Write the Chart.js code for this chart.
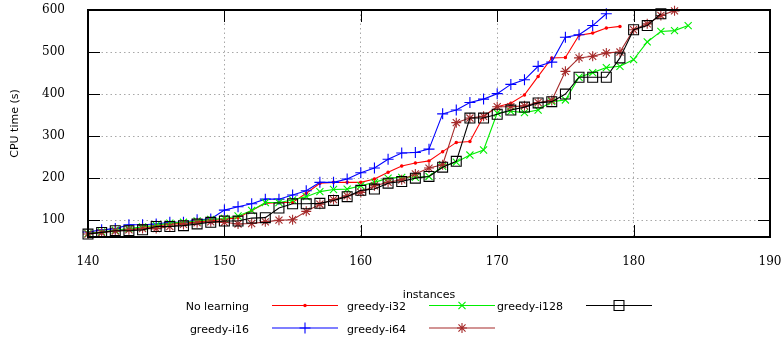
<!DOCTYPE html>
<html>
<head>
<meta charset="utf-8">
<script src="https://cdn.jsdelivr.net/npm/chart.js@4.4.0/dist/chart.umd.min.js"></script>
<style>
  html, body { margin: 0; padding: 0; background: #fff; }
  canvas { display: block; }
</style>
</head>
<body>
<canvas id="chart" width="784" height="337"></canvas>
<script>
const instances = [140, 141, 142, 143, 144, 145, 146, 147, 148, 149,
  150, 151, 152, 153, 154, 155, 156, 157, 158, 159,
  160, 161, 162, 163, 164, 165, 166, 167, 168, 169,
  170, 171, 172, 173, 174, 175, 176, 177, 178, 179,
  180, 181, 182, 183, 184];

const noLearning = [70, 72, 75, 78, 81, 86, 90, 93, 96, 99,
  102, 106, 123, 140, 142, 142, 164, 188, 190, 190,
  190, 198, 214, 229, 236, 241, 263, 285, 287, 347,
  370, 378, 398, 442, 486, 487, 540, 545, 557, 561];
const greedyI16 = [72, 77, 80, 89, 89, 91, 95, 95, 101, 103,
  124, 132, 139, 150, 150, 160, 170, 190, 190, 198,
  213, 224, 245, 260, 261, 269, 353, 362, 380, 388,
  401, 423, 434, 466, 476, 535, 541, 563, 591];
const greedyI32 = [68, 72, 76, 80, 84, 88, 93, 95, 98, 102,
  104, 110, 123, 142, 142, 148, 156, 168, 173, 174,
  182, 190, 200, 202, 202, 204, 228, 238, 255, 267,
  355, 359, 356, 362, 382, 386, 440, 451, 463, 466,
  482, 524, 549, 551, 563];
const greedyI64 = [67, 70, 74, 77, 80, 80, 85, 90, 94, 96,
  95, 91, 92, 96, 100, 101, 121, 138, 149, 158,
  166, 182, 190, 196, 210, 224, 232, 332, 343, 347,
  370, 370, 372, 380, 385, 454, 486, 490, 498, 500,
  553, 567, 587, 598];
const greedyI128 = [67, 71, 75, 75, 77, 85, 85, 87, 91, 95,
  98, 98, 105, 106, 129, 139, 139, 140, 147, 156,
  171, 174, 188, 192, 200, 204, 226, 240, 343, 343,
  352, 362, 369, 379, 382, 400, 440, 440, 440, 486,
  553, 563, 591];

const xTicks = [140, 150, 160, 170, 180, 190];
const yTicks = [100, 200, 300, 400, 500, 600];

function series(label, values, color, style, radius, order) {
  return {
    label: label,
    data: values.map((v, i) => ({ x: instances[i], y: v })),
    borderColor: color,
    backgroundColor: style === 'circle' ? color : 'rgba(0,0,0,0)',
    borderWidth: 1.1,
    pointStyle: style,
    pointRadius: radius,
    pointHoverRadius: radius,
    pointBorderWidth: 1.1,
    tension: 0,
    clip: false,
    order: order,
  };
}

const datasets = [
  series('No learning', noLearning, '#ff0000', 'circle', 1.2, 5),
  series('greedy-i16', greedyI16, '#0000ff', 'cross', 5.5, 4),
  series('greedy-i32', greedyI32, '#00ee00', 'crossRot', 5, 3),
  series('greedy-i64', greedyI64, '#a52a2a', 'star', 5, 2),
  series('greedy-i128', greedyI128, '#000000', 'rect', 7, 1),
];

// frame, inward ticks and the gnuplot style key
const gnuplotFrame = {
  id: 'gnuplotFrame',
  afterDraw(chart) {
    const { ctx, chartArea: a, scales: { x, y } } = chart;
    ctx.save();
    ctx.strokeStyle = '#000';
    ctx.lineWidth = 1;
    const seg = (x1, y1, x2, y2) => { ctx.beginPath(); ctx.moveTo(x1, y1); ctx.lineTo(x2, y2); ctx.stroke(); };
    xTicks.slice(1, -1).forEach(v => {
      const px = Math.round(x.getPixelForValue(v)) + 0.5;
      seg(px, a.bottom, px, a.bottom - 12);
      seg(px, a.top, px, a.top + 12);
    });
    yTicks.slice(0, -1).forEach(v => {
      const py = Math.round(y.getPixelForValue(v)) + 0.5;
      seg(a.left, py, a.left + 12, py);
      seg(a.right, py, a.right - 12, py);
    });
    ctx.lineWidth = 2;
    ctx.strokeRect(a.left, a.top, a.right - a.left, a.bottom - a.top);

    ctx.font = '11px "DejaVu Sans"';
    ctx.textAlign = 'right';
    ctx.textBaseline = 'middle';
    datasets.forEach((ds, i) => {
      const col = Math.floor(i / 2), row = i % 2;
      const off = col * 157;
      const ly = 305.5 + row * 22.5;
      ctx.fillStyle = '#000';
      ctx.fillText(ds.label, 249 + off, ly + 2);
      ctx.strokeStyle = ds.borderColor;
      ctx.fillStyle = ds.backgroundColor;
      ctx.lineWidth = 1.1;
      seg(272 + off, ly, 338 + off, ly);
      Chart.helpers.drawPoint(ctx, { pointStyle: ds.pointStyle, radius: ds.pointRadius, rotation: 0, borderWidth: 1 }, 305 + off, ly);
    });
    ctx.restore();
  }
};

const noOverhang = (s) => { s.paddingTop = 0; s.paddingBottom = 0; s.paddingLeft = 0; s.paddingRight = 0; };

new Chart(document.getElementById('chart'), {
  type: 'line',
  data: { datasets: datasets },
  plugins: [gnuplotFrame],
  options: {
    responsive: false,
    animation: false,
    devicePixelRatio: 1,
    events: [],
    layout: { padding: { left: 0, right: 14, top: 10, bottom: 0 } },
    plugins: { legend: { display: false }, tooltip: { enabled: false } },
    scales: {
      x: {
        type: 'linear',
        min: 140,
        max: 190,
        afterBuildTicks: (s) => { s.ticks = xTicks.map(v => ({ value: v })); },
        afterFit: (s) => { s.height = 100; noOverhang(s); },
        grid: { color: '#a8a8a8', drawTicks: false },
        border: { display: false, dash: [1.5, 3] },
        ticks: { padding: 18, color: '#000', maxRotation: 0, font: { family: 'DejaVu Serif', size: 12 } },
        title: { display: true, text: 'instances', color: '#000', padding: { top: 0, bottom: 35 }, font: { family: 'DejaVu Sans', size: 11 } },
      },
      y: {
        min: 60,
        max: 600,
        afterBuildTicks: (s) => { s.ticks = yTicks.map(v => ({ value: v })); },
        afterFit: (s) => { s.width = 88; noOverhang(s); },
        grid: { color: '#a8a8a8', drawTicks: false },
        border: { display: false, dash: [1.5, 3] },
        ticks: { padding: 23, color: '#000', font: { family: 'DejaVu Serif', size: 12 } },
        title: { display: true, text: 'CPU time (s)', color: '#000', padding: { top: 9, bottom: 0 }, font: { family: 'DejaVu Sans', size: 11 } },
      },
    },
  },
});
</script>
</body>
</html>
